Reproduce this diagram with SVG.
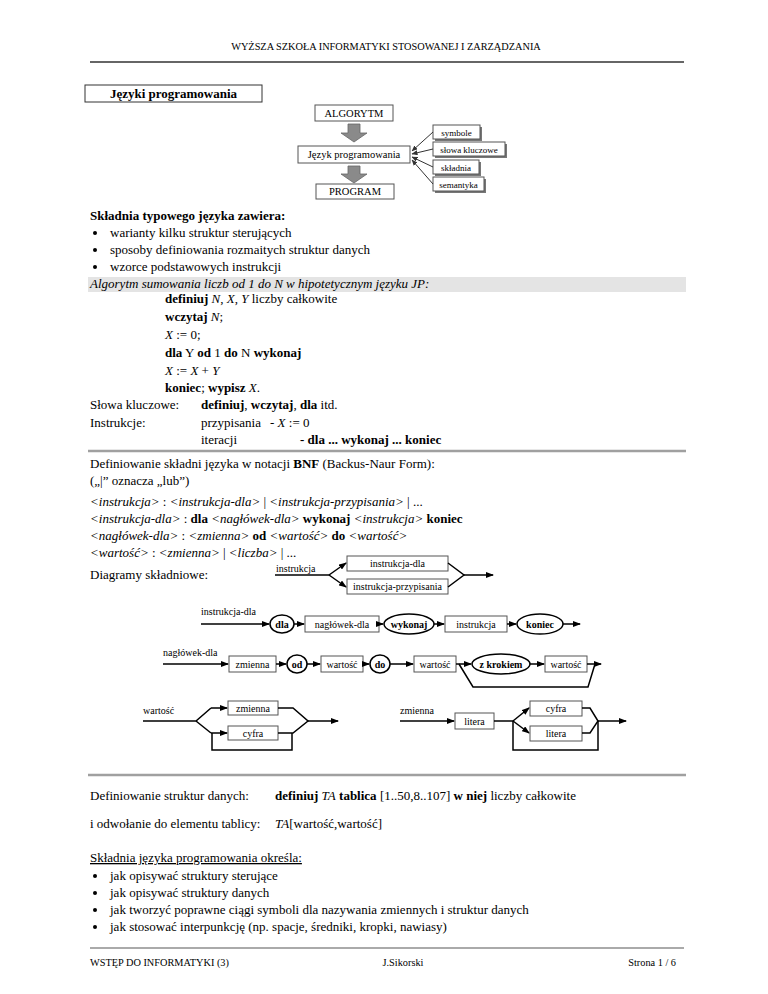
<svg xmlns="http://www.w3.org/2000/svg" width="768" height="994" viewBox="0 0 768 994">
<style>
text{font-family:"Liberation Serif","Times New Roman",serif;fill:#000}
.t{font-size:13px}
.s{font-size:10px}
.a{font-size:10.5px}
.r{font-size:9px}
.f{font-size:10.3px}
.b{font-weight:bold}
.i{font-style:italic}
.box{fill:#fff;stroke:#555;stroke-width:1}
.ell{fill:#fff;stroke:#000;stroke-width:1.5}
.ln{fill:none;stroke:#000;stroke-width:1.5}
.ln1{fill:none;stroke:#333;stroke-width:1}
.blk{fill:#8a8a8a;stroke:#666;stroke-width:0.8}
.sh{fill:#777}
</style>
<defs>
<marker id="ah" markerWidth="8" markerHeight="6" refX="7" refY="3" orient="auto" markerUnits="userSpaceOnUse">
<path d="M0,0 L8,3 L0,6 Z" fill="#000"/>
</marker>
<marker id="ahs" markerWidth="6" markerHeight="5" refX="5.5" refY="2.5" orient="auto" markerUnits="userSpaceOnUse">
<path d="M0,0 L6,2.5 L0,5 Z" fill="#333"/>
</marker>
</defs>
<rect width="768" height="994" fill="#fff"/>

<!-- header -->
<text x="386" y="50" text-anchor="middle" class="f">WYŻSZA SZKOŁA INFORMATYKI STOSOWANEJ I ZARZĄDZANIA</text>
<line x1="90" y1="62" x2="684" y2="62" stroke="#333" stroke-width="1.5"/>

<g id="title">
<rect x="85" y="85" width="177" height="17" fill="#fff" stroke="#333" stroke-width="1"/>
<text x="173.5" y="98" text-anchor="middle" class="t b">Języki programowania</text>
</g>

<!-- algorithm diagram -->
<g id="algorytm">
<rect x="315" y="105" width="78" height="16" class="box"/>
<text x="354" y="117" text-anchor="middle" class="a">ALGORYTM</text>
</g>
<g id="jezyk">
<rect x="298" y="146" width="112" height="17" class="box"/>
<text x="354" y="158" text-anchor="middle" class="a">Język programowania</text>
</g>
<g id="program">
<rect x="316" y="184" width="78" height="15" class="box"/>
<text x="355" y="195" text-anchor="middle" class="a">PROGRAM</text>
</g>
<g id="symbole">
<rect x="435" y="127" width="47" height="14" class="sh"/>
<rect x="433" y="125" width="47" height="14" class="box"/>
<text x="456.5" y="135.5" text-anchor="middle" class="r">symbole</text>
</g>
<g id="slowa">
<rect x="435" y="144" width="72" height="14" class="sh"/>
<rect x="433" y="142" width="72" height="14" class="box"/>
<text x="469" y="152.5" text-anchor="middle" class="r">słowa kluczowe</text>
</g>
<g id="skladnia">
<rect x="435" y="162" width="46" height="14" class="sh"/>
<rect x="433" y="160" width="46" height="14" class="box"/>
<text x="456" y="170.5" text-anchor="middle" class="r">składnia</text>
</g>
<g id="semantyka">
<rect x="435" y="179" width="51" height="14" class="sh"/>
<rect x="433" y="177" width="51" height="14" class="box"/>
<text x="458.5" y="187.5" text-anchor="middle" class="r">semantyka</text>
</g>
<g id="alg-connectors">
<path class="blk" d="M348,124 H360 V133 H367 L354,142 L341,133 H348 Z"/>
<path class="blk" d="M348,166 H360 V174 H367 L354,183 L341,174 H348 Z"/>
<line x1="433" y1="132" x2="412" y2="151" class="ln1" marker-end="url(#ahs)"/>
<line x1="433" y1="149" x2="412" y2="154" class="ln1" marker-end="url(#ahs)"/>
<line x1="433" y1="167" x2="412" y2="157" class="ln1" marker-end="url(#ahs)"/>
<line x1="433" y1="184" x2="412" y2="160" class="ln1" marker-end="url(#ahs)"/>
</g>

<!-- text section -->
<text x="90" y="220" class="t b">Składnia typowego języka zawiera:</text>
<circle cx="95" cy="233" r="2"/><text x="110" y="237" class="t">warianty kilku struktur sterujących</text>
<circle cx="95" cy="250" r="2"/><text x="110" y="254" class="t">sposoby definiowania rozmaitych struktur danych</text>
<circle cx="95" cy="267" r="2"/><text x="110" y="271" class="t">wzorce podstawowych instrukcji</text>

<rect x="88" y="277" width="598" height="15" fill="#e4e4e4"/>
<text x="90" y="288" class="t i">Algorytm sumowania liczb od 1 do N w hipotetycznym języku JP:</text>

<text x="165" y="303" class="t"><tspan class="b">definiuj</tspan> <tspan class="i">N</tspan>, <tspan class="i">X</tspan>, <tspan class="i">Y</tspan> liczby całkowite</text>
<text x="165" y="321" class="t"><tspan class="b">wczytaj</tspan> <tspan class="i">N</tspan>;</text>
<text x="165" y="339" class="t"><tspan class="i">X</tspan> := 0;</text>
<text x="165" y="357" class="t"><tspan class="b">dla</tspan> Y <tspan class="b">od</tspan> 1 <tspan class="b">do</tspan> N <tspan class="b">wykonaj</tspan></text>
<text x="165" y="375" class="t"><tspan class="i">X</tspan> := <tspan class="i">X</tspan> + <tspan class="i">Y</tspan></text>
<text x="165" y="392" class="t"><tspan class="b">koniec</tspan>; <tspan class="b">wypisz</tspan> <tspan class="i">X</tspan>.</text>

<text x="90" y="409" class="t">Słowa kluczowe:</text>
<text x="201" y="409" class="t"><tspan class="b">definiuj</tspan>, <tspan class="b">wczytaj</tspan>, <tspan class="b">dla</tspan> itd.</text>
<text x="90" y="427" class="t">Instrukcje:</text>
<text x="201" y="427" class="t">przypisania</text>
<text x="270" y="427" class="t">- <tspan class="i">X</tspan> := 0</text>
<text x="201" y="444" class="t">iteracji</text>
<text x="300" y="444" class="t b">- dla ... wykonaj ... koniec</text>

<line x1="88" y1="451" x2="686" y2="451" stroke="#a0a0a0" stroke-width="2.5"/>

<text x="90" y="468" class="t">Definiowanie składni języka w notacji <tspan class="b">BNF</tspan> (Backus-Naur Form):</text>
<text x="90" y="485" class="t">(„|” oznacza „lub”)</text>

<text x="90" y="506" class="t"><tspan class="i">&lt;instrukcja&gt;</tspan> : <tspan class="i">&lt;instrukcja-dla&gt;</tspan> | <tspan class="i">&lt;instrukcja-przypisania&gt;</tspan> | ...</text>
<text x="90" y="523" class="t"><tspan class="i">&lt;instrukcja-dla&gt;</tspan> : <tspan class="b">dla</tspan> <tspan class="i">&lt;nagłówek-dla&gt;</tspan> <tspan class="b">wykonaj</tspan> <tspan class="i">&lt;instrukcja&gt;</tspan> <tspan class="b">koniec</tspan></text>
<text x="90" y="540" class="t"><tspan class="i">&lt;nagłówek-dla&gt;</tspan> : <tspan class="i">&lt;zmienna&gt;</tspan> <tspan class="b">od</tspan> <tspan class="i">&lt;wartość&gt;</tspan> <tspan class="b">do</tspan> <tspan class="i">&lt;wartość&gt;</tspan></text>
<text x="90" y="557" class="t"><tspan class="i">&lt;wartość&gt;</tspan> : <tspan class="i">&lt;zmienna&gt;</tspan> | <tspan class="i">&lt;liczba&gt;</tspan> | ...</text>

<text x="90" y="579" class="t">Diagramy składniowe:</text>

<!-- diagram 1: instrukcja -->
<text x="276" y="572" class="s">instrukcja</text>
<g id="d1-dla"><rect x="347" y="556" width="101" height="15" class="box"/><text x="397.5" y="567" text-anchor="middle" class="s">instrukcja-dla</text></g>
<g id="d1-przyp"><rect x="347" y="579" width="101" height="15" class="box"/><text x="397.5" y="590" text-anchor="middle" class="s">instrukcja-przypisania</text></g>

<!-- diagram 2: instrukcja-dla -->
<text x="201" y="615" class="s">instrukcja-dla</text>
<g id="d2-dla"><ellipse cx="282" cy="624" rx="12" ry="9" class="ell"/><text x="282" y="627.5" text-anchor="middle" class="s b">dla</text></g>
<g id="d2-naglowek"><rect x="305" y="616" width="74" height="16" class="box"/><text x="342" y="627.5" text-anchor="middle" class="s">nagłówek-dla</text></g>
<g id="d2-wykonaj"><ellipse cx="409" cy="624" rx="25" ry="10" class="ell"/><text x="409" y="627.5" text-anchor="middle" class="s b">wykonaj</text></g>
<g id="d2-instrukcja"><rect x="445" y="616" width="62" height="16" class="box"/><text x="476" y="627.5" text-anchor="middle" class="s">instrukcja</text></g>
<g id="d2-koniec"><ellipse cx="540" cy="624" rx="23" ry="10" class="ell"/><text x="540" y="627.5" text-anchor="middle" class="s b">koniec</text></g>

<!-- diagram 3: naglowek-dla -->
<text x="163" y="656" class="s">nagłówek-dla</text>
<g id="d3-zmienna"><rect x="229" y="656" width="47" height="16" class="box"/><text x="252.5" y="667.5" text-anchor="middle" class="s">zmienna</text></g>
<g id="d3-od"><ellipse cx="297" cy="664" rx="10" ry="9" class="ell"/><text x="297" y="667.5" text-anchor="middle" class="s b">od</text></g>
<g id="d3-wartosc1"><rect x="321" y="656" width="42" height="16" class="box"/><text x="342" y="667.5" text-anchor="middle" class="s">wartość</text></g>
<g id="d3-do"><ellipse cx="380" cy="664" rx="10" ry="9" class="ell"/><text x="380" y="667.5" text-anchor="middle" class="s b">do</text></g>
<g id="d3-wartosc2"><rect x="414" y="656" width="42" height="16" class="box"/><text x="435" y="667.5" text-anchor="middle" class="s">wartość</text></g>
<g id="d3-zkrokiem"><ellipse cx="501" cy="664" rx="29" ry="10" class="ell"/><text x="501" y="667.5" text-anchor="middle" class="s b">z krokiem</text></g>
<g id="d3-wartosc3"><rect x="545" y="656" width="42" height="16" class="box"/><text x="566" y="667.5" text-anchor="middle" class="s">wartość</text></g>

<!-- diagram 4: wartosc -->
<text x="143" y="714" class="s">wartość</text>
<g id="d4-zmienna"><rect x="228" y="701" width="50" height="14" class="box"/><text x="253" y="711.5" text-anchor="middle" class="s">zmienna</text></g>
<g id="d4-cyfra"><rect x="228" y="726" width="50" height="14" class="box"/><text x="253" y="736.5" text-anchor="middle" class="s">cyfra</text></g>

<!-- diagram 5: zmienna -->
<text x="400" y="714" class="s">zmienna</text>
<g id="d5-litera"><rect x="455" y="713" width="39" height="16" class="box"/><text x="474.5" y="724.5" text-anchor="middle" class="s">litera</text></g>
<g id="d5-cyfra"><rect x="530" y="701" width="52" height="15" class="box"/><text x="556" y="712" text-anchor="middle" class="s">cyfra</text></g>
<g id="d5-litera2"><rect x="530" y="726" width="52" height="15" class="box"/><text x="556" y="737" text-anchor="middle" class="s">litera</text></g>

<g id="connectors">
<!-- d1 -->
<polyline points="275,575 329,575" class="ln"/>
<line x1="329" y1="575" x2="346" y2="563" class="ln" marker-end="url(#ah)"/>
<line x1="329" y1="575" x2="346" y2="587" class="ln" marker-end="url(#ah)"/>
<polyline points="448,563 464,575 448,587" class="ln"/>
<line x1="464" y1="575" x2="493" y2="575" class="ln" marker-end="url(#ah)"/>
<!-- d2 -->
<line x1="201" y1="624" x2="269" y2="624" class="ln" marker-end="url(#ah)"/>
<line x1="294" y1="624" x2="304" y2="624" class="ln" marker-end="url(#ah)"/>
<line x1="379" y1="624" x2="383" y2="624" class="ln" marker-end="url(#ah)"/>
<line x1="434" y1="624" x2="444" y2="624" class="ln" marker-end="url(#ah)"/>
<line x1="507" y1="624" x2="516" y2="624" class="ln" marker-end="url(#ah)"/>
<line x1="563" y1="624" x2="580" y2="624" class="ln" marker-end="url(#ah)"/>
<!-- d3 -->
<line x1="163" y1="664" x2="228" y2="664" class="ln" marker-end="url(#ah)"/>
<line x1="276" y1="664" x2="286" y2="664" class="ln" marker-end="url(#ah)"/>
<line x1="307" y1="664" x2="320" y2="664" class="ln" marker-end="url(#ah)"/>
<line x1="363" y1="664" x2="369" y2="664" class="ln" marker-end="url(#ah)"/>
<line x1="390" y1="664" x2="413" y2="664" class="ln" marker-end="url(#ah)"/>
<line x1="456" y1="664" x2="471" y2="664" class="ln" marker-end="url(#ah)"/>
<line x1="530" y1="664" x2="544" y2="664" class="ln" marker-end="url(#ah)"/>
<line x1="587" y1="664" x2="601" y2="664" class="ln" marker-end="url(#ah)"/>
<polyline points="459,664 473,687 588,687 595,664" class="ln"/>
<!-- d4 -->
<polyline points="143,721 196,721 211,708" class="ln"/>
<line x1="211" y1="708" x2="227" y2="708" class="ln" marker-end="url(#ah)"/>
<polyline points="196,721 211,733" class="ln"/>
<line x1="211" y1="733" x2="227" y2="733" class="ln" marker-end="url(#ah)"/>
<polyline points="278,708 293,708 308,721 293,733 278,733" class="ln"/>
<line x1="308" y1="721" x2="338" y2="721" class="ln" marker-end="url(#ah)"/>
<polyline points="292,733 292,750 212,750 212,733" class="ln"/>
<!-- d5 -->
<line x1="400" y1="721" x2="454" y2="721" class="ln" marker-end="url(#ah)"/>
<line x1="494" y1="721" x2="513" y2="721" class="ln"/>
<line x1="513" y1="721" x2="529" y2="708" class="ln" marker-end="url(#ah)"/>
<line x1="513" y1="721" x2="529" y2="733" class="ln" marker-end="url(#ah)"/>
<polyline points="582,708 590,708 598,721 590,733 582,733" class="ln"/>
<polyline points="598,721 598,750 513,750 513,721" class="ln"/>
<line x1="598" y1="721" x2="626" y2="721" class="ln" marker-end="url(#ah)"/>
</g>

<line x1="88" y1="775" x2="686" y2="775" stroke="#a0a0a0" stroke-width="2.5"/>

<text x="90" y="800" class="t">Definiowanie struktur danych:</text>
<text x="275" y="800" class="t"><tspan class="b">definiuj</tspan> <tspan class="i">TA</tspan> <tspan class="b">tablica</tspan> [1..50,8..107] <tspan class="b">w niej</tspan> liczby całkowite</text>
<text x="90" y="828" class="t">i odwołanie do elementu tablicy:</text>
<text x="275" y="828" class="t"><tspan class="i">TA</tspan>[wartość,wartość]</text>

<text x="90" y="862" class="t" text-decoration="underline">Składnia języka programowania określa:</text>
<circle cx="95" cy="876" r="2"/><text x="110" y="880" class="t">jak opisywać struktury sterujące</text>
<circle cx="95" cy="893" r="2"/><text x="110" y="897" class="t">jak opisywać struktury danych</text>
<circle cx="95" cy="910" r="2"/><text x="110" y="914" class="t">jak tworzyć poprawne ciągi symboli dla nazywania zmiennych i struktur danych</text>
<circle cx="95" cy="927" r="2"/><text x="110" y="931" class="t">jak stosować interpunkcję (np. spacje, średniki, kropki, nawiasy)</text>

<!-- footer -->
<line x1="90" y1="948" x2="684" y2="948" stroke="#aaa" stroke-width="2"/>
<text x="90" y="966" class="f">WSTĘP DO INFORMATYKI (3)</text>
<text x="403" y="966" text-anchor="middle" class="f">J.Sikorski</text>
<text x="676" y="966" text-anchor="end" class="f">Strona 1 / 6</text>
</svg>
